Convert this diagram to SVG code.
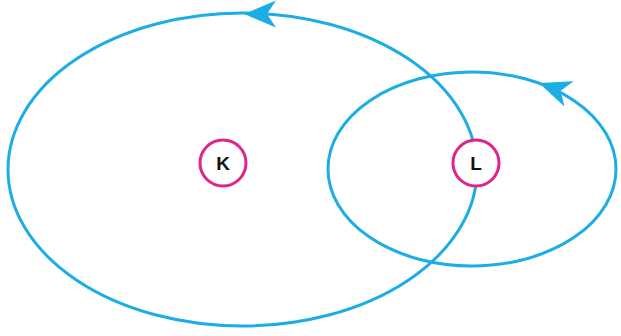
<svg xmlns="http://www.w3.org/2000/svg" width="621" height="336" viewBox="0 0 621 336">
<style>
.orbit{fill:none;stroke:#1badE4;stroke-width:3}
.head{fill:#1badE4}
.node circle{fill:#fff;stroke:#e0248a;stroke-width:3}
.node text{font-family:"Liberation Sans",Arial,sans-serif;font-weight:bold;font-size:19px;fill:#111;text-anchor:middle}
</style>
<defs>
<polygon id="ah" points="0,0 32,-13.5 23,0 32,13.5"/>
</defs>
<rect width="621" height="336" fill="#fff"/>
<g id="connectors">
<ellipse class="orbit" cx="242.5" cy="169.5" rx="234.5" ry="156.5"/>
<ellipse class="orbit" cx="472" cy="169" rx="144" ry="97"/>
<use href="#ah" class="head" transform="translate(244,14)"/>
<use href="#ah" class="head" transform="translate(539,83) rotate(19.8)"/>
</g>
<g id="K" class="node">
<circle cx="223" cy="163" r="23"/>
<text x="223" y="169.8">K</text>
</g>
<g id="L" class="node">
<circle cx="476" cy="163" r="23"/>
<text x="476" y="169.8">L</text>
</g>
</svg>
